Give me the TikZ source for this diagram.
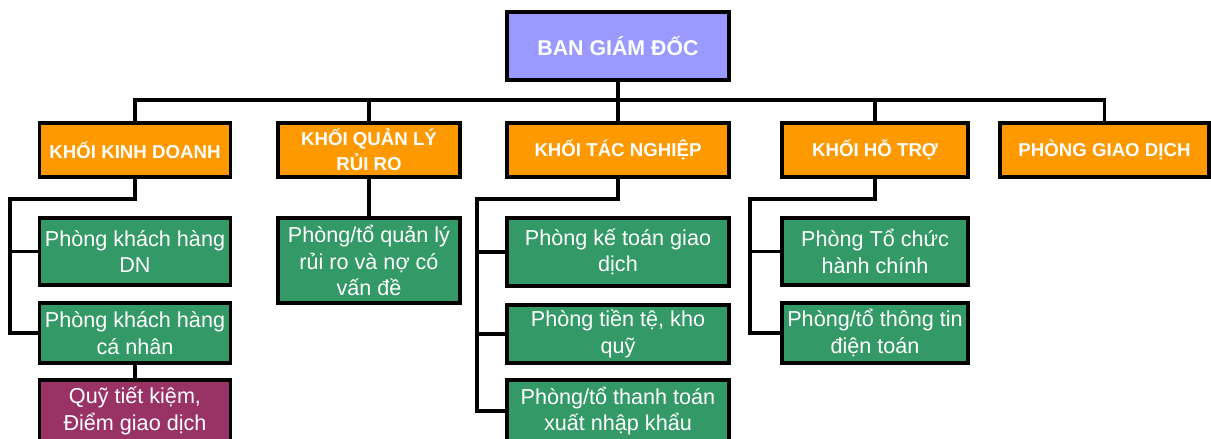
\documentclass[tikz,border=0pt]{standalone}
\usepackage{fontspec}
\setmainfont{Liberation Sans}
\definecolor{topfill}{HTML}{9999FF}
\definecolor{orangefill}{HTML}{FF9900}
\definecolor{greenfill}{HTML}{339966}
\definecolor{maroonfill}{HTML}{993366}
\begin{document}
\begin{tikzpicture}[x=0.75pt,y=-0.75pt,
  base/.style={draw=black, line width=2.4pt, text=white, align=center, inner sep=0pt},
  sz/.style 2 args={minimum width=#1*0.75pt, minimum height=#2*0.75pt},
  topbox/.style={base, fill=topfill, font=\bfseries\fontsize{16}{19}\selectfont},
  headbox/.style={base, fill=orangefill, font=\bfseries\fontsize{14}{18.5}\selectfont},
  unitbox/.style={base, fill=greenfill, font=\fontsize{16.2}{20}\selectfont},
  branchbox/.style={base, fill=maroonfill, font=\fontsize{16.2}{20}\selectfont},
  conn/.style={draw=black, line width=2.4pt}]
\clip (0,0) rectangle (1211,439);
\fill[white] (0,0) rectangle (1211,439);

% top
\node[topbox, sz={222}{68}] (bgd) at (618,46) {BAN GIÁM ĐỐC};

% level 2
\node[headbox, sz={191}{54}] (kd) at (135,150) {KHỐI KINH DOANH};
\node[headbox, sz={182}{54}] (ql) at (369,150) {KHỐI QUẢN LÝ\\RỦI RO};
\node[headbox, sz={222}{54}] (tn) at (618,150) {KHỐI TÁC NGHIỆP};
\node[headbox, sz={186}{54}] (ht) at (875,150) {KHỐI HỖ TRỢ};
\node[headbox, sz={209}{54}] (gd) at (1104.5,150) {PHÒNG GIAO DỊCH};

% level 3 - kinh doanh
\node[unitbox, sz={191}{67}] (kd1) at (135,251.5) {Phòng khách hàng\\DN};
\node[unitbox, sz={191}{60}] (kd2) at (135,333) {Phòng khách hàng\\cá nhân};
\node[branchbox, sz={191}{62}] (kd3) at (135,411) {Quỹ tiết kiệm,\\Điểm giao dịch};

% quan ly rui ro
\node[unitbox, sz={182}{85}] (ql1) at (369,260.5) {Phòng/tổ quản lý\\rủi ro và nợ có\\vấn đề};

% tac nghiep
\node[unitbox, sz={222}{68}] (tn1) at (618,252) {Phòng kế toán giao\\dịch};
\node[unitbox, sz={222}{58}] (tn2) at (618,334) {Phòng tiền tệ, kho\\quỹ};
\node[unitbox, sz={222}{62}] (tn3) at (618,411) {Phòng/tổ thanh toán\\xuất nhập khẩu};

% ho tro
\node[unitbox, sz={186}{67}] (ht1) at (875,251.5) {Phòng Tổ chức\\hành chính};
\node[unitbox, sz={186}{60}] (ht2) at (875,333) {Phòng/tổ thông tin\\điện toán};

% top bus
\coordinate (bus) at (618,100);
\draw[conn] (bgd.south) -- (bus);
\draw[conn] (kd.north) |- (bus) -| (gd.north);
\draw[conn] (ql.north) -- (ql.north |- bus);
\draw[conn] (tn.north) -- (tn.north |- bus);
\draw[conn] (ht.north) -- (ht.north |- bus);

% kinh doanh bracket
\coordinate (kdbus) at (10,199);
\draw[conn] (kd.south) |- (kdbus) |- (kd2.west);
\draw[conn] (kdbus) |- (kd1.west);
\draw[conn] (kd2.south) -- (kd3.north);

% quan ly
\draw[conn] (ql.south) -- (ql1.north);

% tac nghiep bracket
\coordinate (tnbus) at (477,199);
\draw[conn] (tn.south) |- (tnbus) |- (tn3.west);
\draw[conn] (tnbus) |- (tn1.west);
\draw[conn] (tnbus) |- (tn2.west);

% ho tro bracket
\coordinate (htbus) at (750,199);
\draw[conn] (ht.south) |- (htbus) |- (ht2.west);
\draw[conn] (htbus) |- (ht1.west);
\end{tikzpicture}
\end{document}
